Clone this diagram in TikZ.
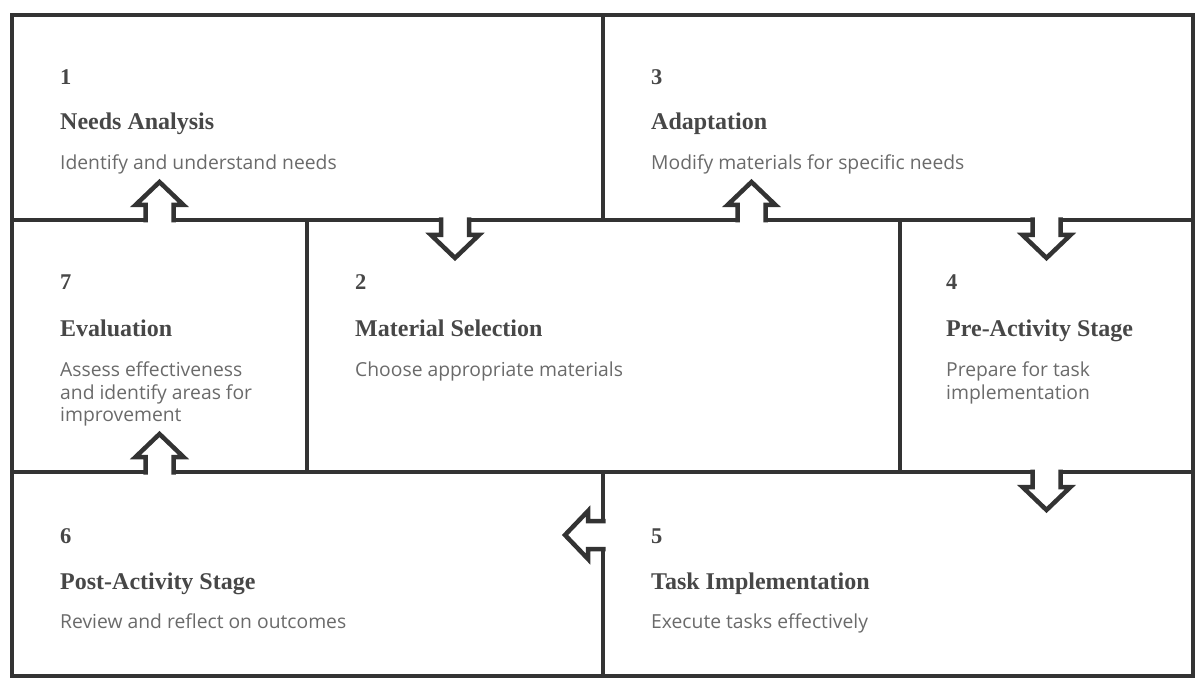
\documentclass[tikz,border=0pt]{standalone}
\usepackage{fontspec}
\setmainfont{Liberation Serif}
\newfontfamily\descfont{Open Sans}
\usetikzlibrary{calc}
\definecolor{inkc}{HTML}{333333}
\definecolor{headc}{HTML}{474747}
\definecolor{descc}{HTML}{6A6A6A}
\tikzset{
 box/.style={draw=inkc, line width=4.5pt, rectangle, outer sep=0pt, inner sep=0pt, anchor=north west},
 numtxt/.style={font=\bfseries\fontsize{22.5}{26}\selectfont, text=headc, anchor=base west, inner sep=0pt},
 titletxt/.style={font=\bfseries\fontsize{24}{28}\selectfont, text=headc, anchor=base west, inner sep=0pt},
 desctxt/.style={font=\descfont\fontsize{19.3}{23}\selectfont, text=descc, anchor=base west, inner sep=0pt},
 tabarrow/.pic={
   \fill[white] (-14,-3.5) -- (-14,15) -- (-24,15) -- (0,38) -- (24,15) -- (14,15) -- (14,-3.5) -- cycle;
   \draw[draw=inkc, line width=4.5pt, line join=miter] (-14,-2.5) -- (-14,15) -- (-24,15) -- (0,38) -- (24,15) -- (14,15) -- (14,-2.5);
 }
}
\begin{document}
\begin{tikzpicture}[x=1pt,y=-1pt]
\useasboundingbox (0,0) rectangle (1195,679);
% boxes
\node[box, minimum width=591pt, minimum height=205pt] (b1) at (12,15) {};
\node[box, minimum width=590pt, minimum height=205pt] (b3) at (603,15) {};
\node[box, minimum width=295pt, minimum height=252pt] (b7) at (12,220) {};
\node[box, minimum width=593pt, minimum height=252pt] (b2) at (307,220) {};
\node[box, minimum width=293pt, minimum height=252pt] (b4) at (900,220) {};
\node[box, minimum width=591pt, minimum height=204pt] (b6) at (12,472) {};
\node[box, minimum width=590pt, minimum height=204pt] (b5) at (603,472) {};
% texts
\node[numtxt] (n1) at ($(b1.north west)+(48,70)$) {1};
\node[titletxt] (t1) at ($(b1.north west)+(48,115)$) {Needs Analysis};
\node[desctxt] (d1) at ($(b1.north west)+(48,155)$) {Identify and understand needs};
\node[numtxt] (n3) at ($(b3.north west)+(48,70)$) {3};
\node[titletxt] (t3) at ($(b3.north west)+(48,115)$) {Adaptation};
\node[desctxt] (d3) at ($(b3.north west)+(48,155)$) {Modify materials for specific needs};
\node[numtxt] (n7) at ($(b7.north west)+(48,70)$) {7};
\node[titletxt] (t7) at ($(b7.north west)+(48,116)$) {Evaluation};
\node[desctxt] (d7) at ($(b7.north west)+(48,156)$) {\vtop{\hbox{Assess effectiveness}\hbox{and identify areas for}\hbox{improvement}}};
\node[numtxt] (n2) at ($(b2.north west)+(48,70)$) {2};
\node[titletxt] (t2) at ($(b2.north west)+(48,116)$) {Material Selection};
\node[desctxt] (d2) at ($(b2.north west)+(48,156)$) {Choose appropriate materials};
\node[numtxt] (n4) at ($(b4.north west)+(46,70)$) {4};
\node[titletxt] (t4) at ($(b4.north west)+(46,116)$) {Pre-Activity Stage};
\node[desctxt] (d4) at ($(b4.north west)+(46,156)$) {\vtop{\hbox{Prepare for task}\hbox{implementation}}};
\node[numtxt] (n6) at ($(b6.north west)+(48,71)$) {6};
\node[titletxt] (t6) at ($(b6.north west)+(48,117)$) {Post-Activity Stage};
\node[desctxt] (d6) at ($(b6.north west)+(48,156)$) {Review and reflect on outcomes};
\node[numtxt] (n5) at ($(b5.north west)+(48,71)$) {5};
\node[titletxt] (t5) at ($(b5.north west)+(48,117)$) {Task Implementation};
\node[desctxt] (d5) at ($(b5.north west)+(48,156)$) {Execute tasks effectively};
% tab arrows between boxes
\pic[rotate=180] at (b7.north) {tabarrow};
\pic at ($(b2.north west)!0.5!(b1.south east)$) {tabarrow};
\pic[rotate=180] at ($(b3.south west)!0.5!(b2.north east)$) {tabarrow};
\pic at (b4.north) {tabarrow};
\pic at (b4.south) {tabarrow};
\pic[rotate=-90] at ($(b5.north west)+(0,63)$) {tabarrow};
\pic[rotate=180] at (b7.south) {tabarrow};
\end{tikzpicture}
\end{document}
